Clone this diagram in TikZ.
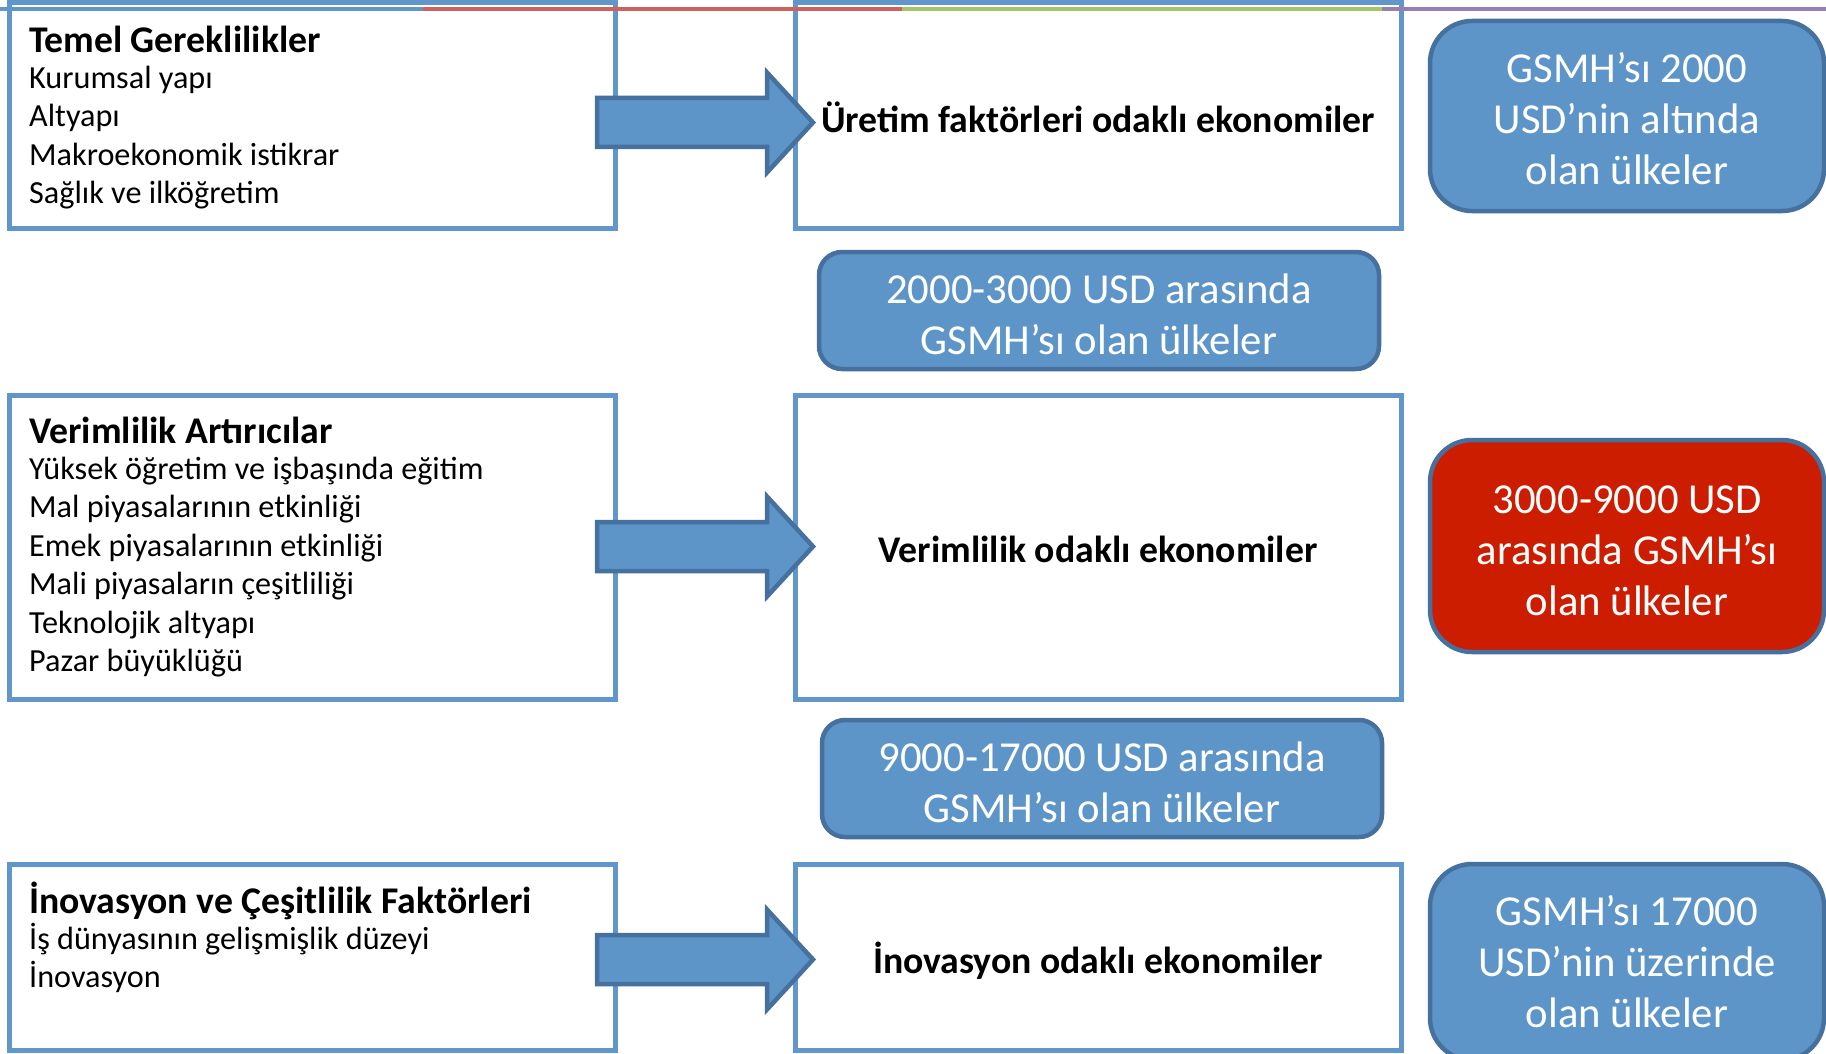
\documentclass[tikz,border=0pt]{standalone}
\usepackage{fontspec}
\setmainfont{Carlito}
\definecolor{frameblue}{RGB}{96,150,202}
\definecolor{pillblue}{RGB}{94,149,201}
\definecolor{pilledge}{RGB}{70,112,158}
\definecolor{pillred}{RGB}{204,29,0}
\definecolor{lineblue}{RGB}{96,150,202}
\definecolor{linered}{RGB}{205,98,94}
\definecolor{linegreen}{RGB}{166,196,104}
\definecolor{linepurple}{RGB}{150,127,182}
\begin{document}
\begin{tikzpicture}[x=1pt,y=-1pt,
  frame/.style={draw=frameblue, line width=5pt, fill=white, inner sep=0pt},
  pill/.style={draw=pilledge, line width=4.5pt, fill=pillblue, rounded corners=42pt, inner sep=0pt},
  band/.style={draw=pilledge, line width=4.5pt, fill=pillblue, rounded corners=23pt, inner sep=0pt},
  pilltext/.style={text=white, align=center, inner sep=0pt, font=\fontsize{42.7}{51}\selectfont},
  listtext/.style={anchor=north west, align=left, inner sep=0pt, font=\fontsize{32.2}{38.4}\selectfont},
  focus/.style={font=\fontsize{37.7}{43}\selectfont\bfseries, inner sep=0pt},
  blockarrow/.style={draw=pilledge, line width=4.5pt, fill=pillblue, line join=miter},
  topline/.style={line width=4pt}
]
\useasboundingbox (0,0) rectangle (1826,1054);
\clip (0,0) rectangle (1826,1054);
\fill[white] (0,0) rectangle (1826,1054);

% frames
\node[frame, minimum width=606pt, minimum height=225pt] (L1) at (312,115.5) {};
\node[frame, minimum width=606pt, minimum height=225pt] (M1) at (1098,115.5) {};
\node[frame, minimum width=606pt, minimum height=304pt] (L2) at (312,547) {};
\node[frame, minimum width=606pt, minimum height=304pt] (M2) at (1098,547) {};
\node[frame, minimum width=606pt, minimum height=186pt] (L3) at (312,957) {};
\node[frame, minimum width=606pt, minimum height=186pt] (M3) at (1098,957) {};

% top coloured line
\draw[topline, lineblue] (0,9.5) -- (423,9.5);
\draw[topline, linered] (423,9.5) -- (902,9.5);
\draw[topline, linegreen] (902,9.5) -- (1382,9.5);
\draw[topline, linepurple] (1382,9.5) -- (1826,9.5);

% list texts
\node[listtext] (T1) at (29,25.5) {{\fontsize{37.7}{38.4}\selectfont\bfseries Temel Gereklilikler}\\[-2pt]Kurumsal yapı\\Altyapı\\Makroekonomik istikrar\\Sağlık ve ilköğretim};
\node[listtext] (T2) at (29,417) {{\fontsize{37.7}{38.4}\selectfont\bfseries Verimlilik Artırıcılar}\\[-2.5pt]Yüksek öğretim ve işbaşında eğitim\\Mal piyasalarının etkinliği\\Emek piyasalarının etkinliği\\Mali piyasaların çeşitliliği\\Teknolojik altyapı\\Pazar büyüklüğü};
\node[listtext] (T3) at (29,881.5) {{\fontsize{37.7}{38.4}\selectfont\bfseries İnovasyon ve Çeşitlilik Faktörleri}\\[-2.5pt]İş dünyasının gelişmişlik düzeyi\\İnovasyon};

% focus texts
\node[focus] (F1) at (1098,117) {Üretim faktörleri odaklı ekonomiler};
\node[focus] (F2) at (1098,549) {Verimlilik odaklı ekonomiler};
\node[focus] (F3) at (1098,961) {İnovasyon odaklı ekonomiler};

% block arrows
\path[blockarrow] (597,122.5) ++(0,-24.5) -- ++(170,0) -- ++(0,-25.5) -- ++(46,50) -- ++(-46,50) -- ++(0,-25.5) -- ++(-170,0) -- cycle;
\path[blockarrow] (597,546.5) ++(0,-24.5) -- ++(170,0) -- ++(0,-25.5) -- ++(46,50) -- ++(-46,50) -- ++(0,-25.5) -- ++(-170,0) -- cycle;
\path[blockarrow] (597,959.5) ++(0,-24.5) -- ++(170,0) -- ++(0,-25.5) -- ++(46,50) -- ++(-46,50) -- ++(0,-25.5) -- ++(-170,0) -- cycle;

% pills
\node[pill, minimum width=394pt, minimum height=190pt] (R1) at (1627,116) {};
\node[band, minimum width=560pt, minimum height=117pt] (P1) at (1099,310.5) {};
\node[pill, fill=pillred, minimum width=394pt, minimum height=212pt] (R2) at (1627,546) {};
\node[band, minimum width=560pt, minimum height=117pt] (P2) at (1102,778.5) {};
\node[pill, minimum width=394pt, minimum height=196pt] (R3) at (1627,962) {};

\node[pilltext] (R1t) at ([yshift=-3pt]R1.center) {GSMH’sı 2000\\USD’nin altında\\olan ülkeler};
\node[pilltext] (P1t) at ([yshift=-3.5pt]P1.center) {2000-3000 USD arasında\\GSMH’sı olan ülkeler};
\node[pilltext] (R2t) at ([yshift=-4.5pt]R2.center) {3000-9000 USD\\arasında GSMH’sı\\olan ülkeler};
\node[pilltext] (P2t) at ([yshift=-3.5pt]P2.center) {9000-17000 USD arasında\\GSMH’sı olan ülkeler};
\node[pilltext] (R3t) at (R3.center) {GSMH’sı 17000\\USD’nin üzerinde\\olan ülkeler};
\end{tikzpicture}
\end{document}
